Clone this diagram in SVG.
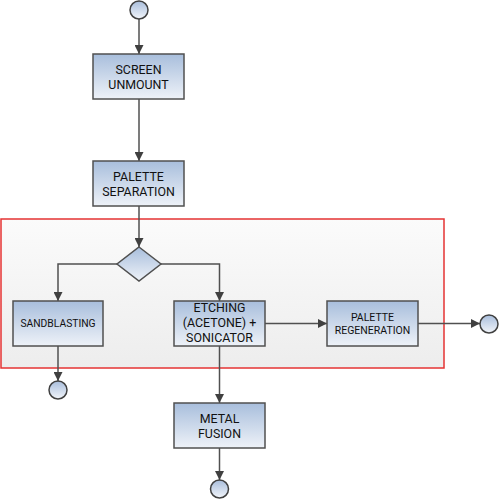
<svg xmlns="http://www.w3.org/2000/svg" width="500" height="500" viewBox="0 0 500 500">
<defs>
<linearGradient id="boxg" x1="0" y1="0" x2="0" y2="1">
<stop offset="0" stop-color="#a8bedc"/>
<stop offset="1" stop-color="#eef2f8"/>
</linearGradient>
<linearGradient id="circg" x1="0" y1="0" x2="0" y2="1">
<stop offset="0" stop-color="#a9bedc"/>
<stop offset="1" stop-color="#f2f5fa"/>
</linearGradient>
<linearGradient id="grpg" x1="0" y1="0" x2="0" y2="1">
<stop offset="0" stop-color="#fbfbfb"/>
<stop offset="1" stop-color="#ededed"/>
</linearGradient>
<marker id="arr" viewBox="0 0 10 10" refX="10" refY="5" markerWidth="9" markerHeight="9" markerUnits="userSpaceOnUse" orient="auto">
<path d="M0,0 L10,5 L0,10 z" fill="#404040"/>
</marker>
<style>
.box{fill:url(#boxg);stroke:#505050;stroke-width:1.5}
.circ{fill:url(#circg);stroke:#404040;stroke-width:1.5}
.conn{fill:none;stroke:#505050;stroke-width:1.5;marker-end:url(#arr)}
.lbl{font-family:Roboto,"Open Sans","DejaVu Sans",sans-serif;fill:#111;text-anchor:middle}
.big{font-size:12.4px}
.small{font-size:10.5px}
</style>
</defs>
<rect id="group" x="1" y="219" width="443" height="149" fill="url(#grpg)" stroke="#e53333" stroke-width="1.5"/>
<g id="connectors">
<line class="conn" x1="139" y1="19" x2="139" y2="54"/>
<line class="conn" x1="139" y1="99" x2="139" y2="161"/>
<line class="conn" x1="139" y1="206" x2="139" y2="247"/>
<polyline class="conn" points="117,264 58,264 58,301"/>
<polyline class="conn" points="161,264 219.5,264 219.5,301"/>
<line class="conn" x1="58" y1="346" x2="58" y2="381"/>
<line class="conn" x1="265" y1="323.5" x2="327" y2="323.5"/>
<line class="conn" x1="418" y1="323.5" x2="480" y2="323.5"/>
<line class="conn" x1="219.5" y1="346" x2="219.5" y2="403"/>
<line class="conn" x1="219.5" y1="448" x2="219.5" y2="480"/>
</g>
<g id="start"><circle class="circ" cx="139" cy="10" r="9"/></g>
<g id="screen-unmount">
<rect class="box" x="93" y="54" width="91" height="45"/>
<text class="lbl big" x="138.5" y="74">SCREEN</text>
<text class="lbl big" x="138.5" y="89">UNMOUNT</text>
</g>
<g id="palette-separation">
<rect class="box" x="93" y="161" width="91" height="45"/>
<text class="lbl big" x="138.5" y="181">PALETTE</text>
<text class="lbl big" x="138.5" y="196">SEPARATION</text>
</g>
<g id="decision">
<polygon class="box" points="139,247 161,264 139,281 117,264"/>
</g>
<g id="sandblasting">
<rect class="box" x="13" y="301" width="90" height="45"/>
<text class="lbl small" x="58" y="327" style="font-size:10.3px">SANDBLASTING</text>
</g>
<g id="etching">
<rect class="box" x="174" y="301" width="91" height="45"/>
<text class="lbl big" x="219.5" y="312.3">ETCHING</text>
<text class="lbl big" x="219.5" y="327">(ACETONE) +</text>
<text class="lbl big" x="219.5" y="341.7">SONICATOR</text>
</g>
<g id="palette-regeneration">
<rect class="box" x="327" y="301" width="91" height="45"/>
<text class="lbl small" x="372.5" y="321">PALETTE</text>
<text class="lbl small" x="372.5" y="334">REGENERATION</text>
</g>
<g id="metal-fusion">
<rect class="box" x="174" y="403" width="91" height="45"/>
<text class="lbl big" x="219.5" y="423">METAL</text>
<text class="lbl big" x="219.5" y="438">FUSION</text>
</g>
<g id="end-sandblasting"><circle class="circ" cx="58" cy="390" r="9"/></g>
<g id="end-regeneration"><circle class="circ" cx="489" cy="324" r="9"/></g>
<g id="end-fusion"><circle class="circ" cx="219.5" cy="489" r="9"/></g>
</svg>
